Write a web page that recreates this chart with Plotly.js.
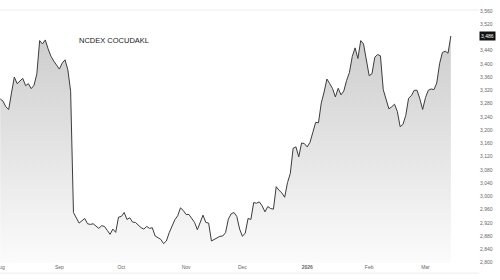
<!DOCTYPE html>
<html>
<head>
<meta charset="utf-8">
<script src="https://cdn.plot.ly/plotly-3.0.1.min.js"></script>
<style>
html,body{margin:0;padding:0;background:#fff;}
#chart{width:500px;height:280px;}
</style>
</head>
<body>
<div id="chart"></div>
<script>
// First trading day of the series (weekdays only)
const startDate = '2025-08-01';
// Daily closing prices, one per trading day
const prices = [
  3294, 3287, 3270, 3262, 3312, 3360, 3340, 3348, 3356, 3334,
  3340, 3325, 3335, 3370, 3470, 3460, 3472, 3445, 3423, 3408,
  3395, 3384, 3402, 3412, 3382, 3317, 2951, 2933, 2919, 2926,
  2933, 2917, 2915, 2917, 2910, 2903, 2911, 2909, 2897, 2885,
  2901, 2891, 2937, 2939, 2951, 2930, 2935, 2922, 2921, 2912,
  2905, 2901, 2909, 2903, 2905, 2880, 2874, 2870, 2857, 2865,
  2890, 2911, 2929, 2941, 2965, 2957, 2945, 2945, 2932, 2921,
  2899, 2921, 2943, 2921, 2919, 2865, 2870, 2875, 2879, 2880,
  2890, 2931, 2947, 2951, 2939, 2901, 2879, 2889, 2933, 2930,
  2981, 2979, 2983, 2971, 2953, 2969, 2963, 2961, 3029, 3018,
  3010, 2997, 3041, 3069, 3145, 3149, 3119, 3161, 3159, 3149,
  3163, 3193, 3223, 3222, 3282, 3315, 3354, 3340, 3325, 3300,
  3326, 3306, 3318, 3350, 3374, 3422, 3448, 3416, 3470, 3460,
  3412, 3364, 3370, 3420, 3428, 3424, 3322, 3296, 3264, 3270,
  3278, 3256, 3210, 3217, 3244, 3296, 3304, 3320, 3320, 3294,
  3262, 3298, 3320, 3324, 3322, 3342, 3400, 3434, 3438, 3432,
  3484
];
const lastPriceLabel = '3,486';
const chartTitle = 'NCDEX COCUDAKL';
const monthTickDates = ['2025-08-01','2025-09-01','2025-10-01','2025-11-03','2025-12-01','2026-01-01','2026-02-02','2026-03-02'];
const monthTickLabels = ['Aug','Sep','Oct','Nov','Dec','<b>2026</b>','Feb','Mar'];

// trading-day calendar (Mon-Fri) for the prices
function tradingDays(start, n) {
  const out = [];
  const d = new Date(start + 'T00:00:00Z');
  while (out.length < n) {
    const wd = d.getUTCDay();
    if (wd !== 0 && wd !== 6) out.push(d.toISOString().slice(0, 10));
    d.setUTCDate(d.getUTCDate() + 1);
  }
  return out;
}
const dates = tradingDays(startDate, prices.length);

const trace = {
  type: 'scatter',
  mode: 'lines',
  x: dates,
  y: prices,
  line: {color: '#3c3c3c', width: 1},
  fill: 'tozeroy',
  fillgradient: {
    type: 'vertical',
    start: 2800,
    stop: 3560,
    colorscale: [[0, '#fbfbfb'], [1, '#c8c8c8']]
  },
  hoverinfo: 'skip'
};

const layout = {
  width: 500,
  height: 280,
  margin: {l: 0, r: 21, t: 10, b: 17},
  paper_bgcolor: '#ffffff',
  plot_bgcolor: '#ffffff',
  showlegend: false,
  font: {family: 'Liberation Sans, Arial, sans-serif', color: '#666'},
  xaxis: {
    type: 'date',
    range: ['2025-07-31 22:00', '2026-03-27'],
    rangebreaks: [{bounds: ['sat', 'mon']}],
    tickmode: 'array',
    tickvals: monthTickDates,
    ticktext: monthTickLabels,
    ticklabeloverflow: 'allow',
    showgrid: false,
    zeroline: false,
    showline: false,
    ticks: '',
    tickfont: {size: 5, color: '#666'}
  },
  yaxis: {
    side: 'right',
    range: [2798.5, 3562.4],
    dtick: 40,
    tick0: 2800,
    tickformat: ',d',
    showgrid: false,
    zeroline: false,
    showline: false,
    ticks: '',
    tickfont: {size: 5, color: '#666'}
  },
  shapes: [
    {type: 'line', xref: 'paper', yref: 'paper', x0: 0, x1: 1, y0: 1, y1: 1,
     line: {color: '#eeeeee', width: 1}},
    {type: 'line', xref: 'paper', yref: 'paper', x0: 0, x1: 1, y0: -0.04, y1: -0.04,
     line: {color: '#eeeeee', width: 1}}
  ],
  annotations: [
    {text: chartTitle, xref: 'paper', yref: 'paper', x: 77 / 479, y: 0.881,
     xanchor: 'left', yanchor: 'middle', showarrow: false,
     font: {family: 'Liberation Sans, Arial, sans-serif', size: 7.5, color: '#1a1a1a'}},
    {text: lastPriceLabel, xref: 'paper', yref: 'y', x: 1, y: prices[prices.length - 1],
     xanchor: 'left', yanchor: 'middle', showarrow: false,
     bgcolor: '#111111', borderpad: 1,
     font: {size: 5, color: '#ffffff'}}
  ]
};

Plotly.newPlot('chart', [trace], layout, {staticPlot: true, displayModeBar: false});
</script>
</body>
</html>
